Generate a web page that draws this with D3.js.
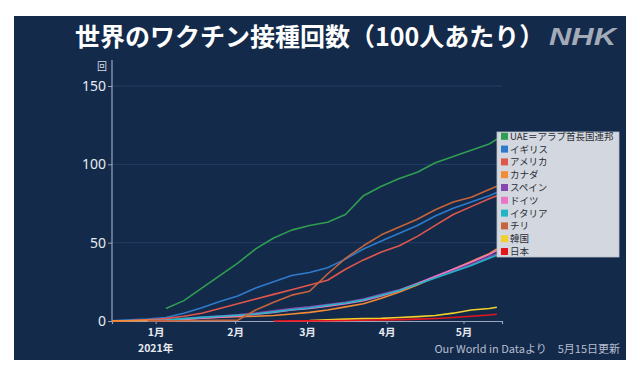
<!DOCTYPE html>
<html>
<head>
<meta charset="utf-8">
<script src="https://cdn.jsdelivr.net/npm/d3@7"></script>
<style>
  html, body { margin: 0; padding: 0; background: #ffffff; }
  svg { display: block; }
  text { font-family: "Noto Sans CJK JP", "Noto Sans", sans-serif; }
</style>
</head>
<body>
<svg id="chart" width="640" height="375"></svg>
<script>
// ---- data ----
const dates = ["2020-12-15","2020-12-22","2020-12-29","2021-01-05","2021-01-12","2021-01-19","2021-01-26",
  "2021-02-02","2021-02-09","2021-02-16","2021-02-23","2021-03-02","2021-03-09","2021-03-16","2021-03-23",
  "2021-03-30","2021-04-06","2021-04-13","2021-04-20","2021-04-27","2021-05-04","2021-05-11","2021-05-14"];

const uae     = [null,null,null,8,13,21,29,37,46,53,58,61,63,68,80,86,91,95,101,105,109,113,116];
const uk      = [0.2,0.8,1.3,2.2,5,8.5,12.5,16,21,25,29,31,34,39.5,46,51,56,61,67,72,76,80,82];
const usa     = [0.1,0.3,0.8,1.5,3,5,8,11,14,17,20,23,26,33,39,44,48,54,61,68,73,78,80];
const canada  = [0.05,0.2,0.4,0.6,1.2,1.9,2.4,2.7,3,3.5,4.5,5.5,7,9,11,14.5,18.5,23,28,33,38,43,46];
const spain   = [null,null,0.1,0.5,1.5,2.5,3.2,4,5,6.5,8,9,10.5,12,14,17,20,24,28,32,36,41,43];
const germany = [null,null,0.1,0.4,1,1.8,2.5,3.3,4.3,5.5,7,8,9.5,11,13,16,19.5,24,28.5,33,37.5,42.5,45];
const italy   = [null,null,0.1,0.5,1.5,2.3,3,3.7,4.5,5.8,7.2,8.3,10,11.5,13.5,16.5,19.5,23.5,27.5,31.5,35.5,40,42];
const chile   = [null,null,0.05,0.1,0.2,0.3,0.4,0.5,7,12,16.5,19,30,40,48,55,60,65,71,76,79,84,86];
const korea   = [null,null,null,null,null,null,null,null,null,null,null,0.3,0.8,1.2,1.5,1.7,2.2,2.8,3.5,5,7,8,8.8];
const japan   = [null,null,null,null,null,null,null,null,null,0.01,0.05,0.1,0.15,0.3,0.5,0.7,0.9,1.2,1.6,2.2,3,3.8,4.3];

const seriesNames  = ["UAE＝アラブ首長国連邦","イギリス","アメリカ","カナダ","スペイン","ドイツ","イタリア","チリ","韓国","日本"];
const seriesValues = [uae, uk, usa, canada, spain, germany, italy, chile, korea, japan];
const seriesColors = ["#2f9e50","#2f7bcb","#e0574c","#f38b34","#8747b0","#ec74c6","#22b6c4","#c6643c","#f2d02a","#e8141c"];

const yTicks = [0, 50, 100, 150];
const monthDates = ["2021-01-01","2021-02-01","2021-03-01","2021-04-01","2021-05-01"];
const monthLabels = ["1月","2月","3月","4月","5月"];

const titleText = "世界のワクチン接種回数（100人あたり）";
const unitText = "回";
const yearText = "2021年";
const sourceText = "Our World in Dataより　5月15日更新";

// ---- drawing ----
const parse = d3.timeParse("%Y-%m-%d");
const svg = d3.select("#chart");

svg.append("rect").attr("x", 0).attr("y", 0).attr("width", 640).attr("height", 375).attr("fill", "#ffffff");
svg.append("rect").attr("x", 14).attr("y", 16).attr("width", 612).attr("height", 344).attr("fill", "#142a4b");

const x = d3.scaleTime().domain([parse("2020-12-15"), parse("2021-05-16")]).range([112, 502]);
const y = d3.scaleLinear().domain([0, 150]).range([321, 86]);

// gridlines
svg.append("g").selectAll("line").data(yTicks.filter(t => t > 0)).join("line")
  .attr("x1", x.range()[0]).attr("x2", x.range()[1])
  .attr("y1", d => y(d)).attr("y2", d => y(d))
  .attr("stroke", "#253e64").attr("stroke-width", 1);

// y axis
const yAxis = svg.append("g").attr("transform", `translate(${x.range()[0]},0)`)
  .call(d3.axisLeft(y).tickValues(yTicks).tickSize(4).tickPadding(2));
yAxis.select(".domain").remove();
yAxis.selectAll(".tick line").attr("stroke", "#9aa6bc");
yAxis.selectAll(".tick text").attr("fill", "#e6eaf0").attr("font-size", 14)
  .style("font-family", "'Noto Sans', sans-serif");
svg.append("line").attr("x1", x.range()[0]).attr("x2", x.range()[0])
  .attr("y1", 60).attr("y2", y(0)).attr("stroke", "#9aa6bc").attr("stroke-width", 1.2);

// x axis
const xAxis = svg.append("g").attr("transform", `translate(0,${y(0)})`)
  .call(d3.axisBottom(x).tickValues(monthDates.map(parse)).tickFormat((d, i) => monthLabels[i]).tickSize(3).tickPadding(5));
xAxis.select(".domain").attr("stroke", "#9aa6bc").attr("stroke-width", 1.2);
xAxis.selectAll(".tick line").attr("stroke", "#9aa6bc");
xAxis.selectAll(".tick text").attr("fill", "#e6eaf0").attr("font-size", 10.5).attr("font-weight", "bold");

svg.append("text").attr("x", x(parse(monthDates[0]))).attr("y", 352)
  .attr("text-anchor", "middle").attr("fill", "#e6eaf0").attr("font-size", 10.5).attr("font-weight", "bold")
  .text(yearText);

// lines
const line = d3.line()
  .defined(d => d.v !== null)
  .x(d => x(d.t))
  .y(d => y(d.v));

const series = seriesNames.map((name, i) => ({
  name, color: seriesColors[i],
  pts: dates.map((ds, j) => ({ t: parse(ds), v: seriesValues[i][j] }))
}));

svg.append("g").selectAll("path").data(series).join("path")
  .attr("d", d => line(d.pts))
  .attr("fill", "none")
  .attr("stroke", d => d.color)
  .attr("stroke-width", 1.6)
  .attr("stroke-linejoin", "round");

// unit label
svg.append("text").attr("x", 102).attr("y", 70).attr("text-anchor", "middle")
  .attr("fill", "#d4dae4").attr("font-size", 10).text(unitText);

// legend
const lg = svg.append("g");
lg.append("rect").attr("x", 497).attr("y", 132).attr("width", 122).attr("height", 125)
  .attr("fill", "#d3d7df").attr("stroke", "#b8bdc8").attr("stroke-width", 0.8);
const items = lg.selectAll("g.item").data(series).join("g").attr("class", "item")
  .attr("transform", (d, i) => `translate(0,${136.3 + i * 12.8})`);
items.append("rect").attr("x", 501).attr("y", -3.5).attr("width", 7).attr("height", 7).attr("fill", d => d.color);
items.append("text").attr("x", 510).attr("y", 3.4).attr("font-size", 9.5).attr("fill", "#2a2d35")
  .text(d => d.name);

// title
svg.append("text").attr("x", 75).attr("y", 46).attr("fill", "#ffffff")
  .attr("font-size", 25).attr("font-weight", "bold").text(titleText);

// NHK logo text
svg.append("text").attr("x", 549).attr("y", 45).attr("fill", "#a3aab8")
  .attr("font-size", 24).attr("font-weight", "900").attr("font-style", "italic")
  .attr("textLength", 67).attr("lengthAdjust", "spacingAndGlyphs")
  .style("font-family", "'Liberation Sans', Arial, sans-serif")
  .text("NHK");

// source
svg.append("text").attr("x", 620).attr("y", 353).attr("text-anchor", "end")
  .attr("fill", "#b6bece").attr("font-size", 11).text(sourceText);
</script>
</body>
</html>
